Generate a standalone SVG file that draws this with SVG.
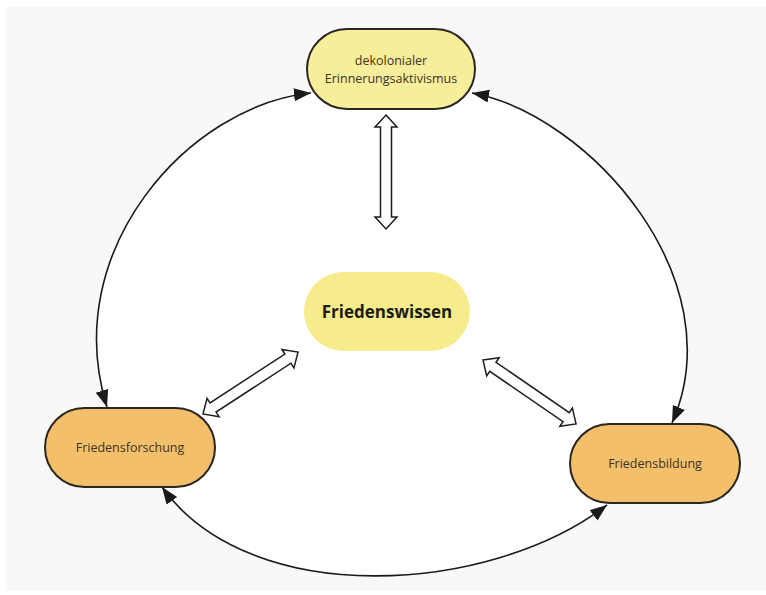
<svg xmlns="http://www.w3.org/2000/svg" width="766" height="595" viewBox="0 0 766 595">
<style>
.lbl{font-family:"Open Sans","Liberation Sans",sans-serif;font-size:12.5px;fill:#3b3424;text-anchor:middle}
.main{font-family:"Open Sans","Liberation Sans",sans-serif;font-size:17px;font-weight:bold;fill:#1e1b14;text-anchor:middle}
.arc{fill:none;stroke:#1a1a1a;stroke-width:1.6;marker-start:url(#ah);marker-end:url(#ah)}
.blk{fill:#ffffff;stroke:#1e1e1e;stroke-width:1.5;stroke-linejoin:miter}
.pill{stroke:#2a2620;stroke-width:2}
</style>
<defs>
<marker id="ah" markerUnits="userSpaceOnUse" markerWidth="18" markerHeight="14" refX="17" refY="6.5" orient="auto-start-reverse" viewBox="0 0 18 14">
<path d="M0,0 L17,6.5 L0,13 z" fill="#1a1a1a"/>
</marker>
</defs>
<rect x="0" y="0" width="766" height="595" fill="#ffffff"/>
<rect x="6" y="7" width="760" height="584" fill="#f8f8f8"/>
<path d="M311 93 C190 105, 58 250, 107 407 L162 487 C250 610, 490 595, 607 505 L672 423 C735 280, 590 115, 472 93 Z" fill="#ffffff"/>
<g id="connectors">
<path class="arc" d="M311 93 C190 105, 58 250, 107 407"/>
<path class="arc" d="M472 93 C590 115, 735 280, 672 423"/>
<path class="arc" d="M162 487 C250 610, 490 595, 607 505"/>
<polygon class="blk" transform="translate(386,115) rotate(90)" points="0,0 12,-11 12,-5.5 102,-5.5 102,-11 114,0 102,11 102,5.5 12,5.5 12,11"/>
<polygon class="blk" transform="translate(203,414) rotate(-33.1)" points="0,0 12,-11 12,-5.5 101.4,-5.5 101.4,-11 113.4,0 101.4,11 101.4,5.5 12,5.5 12,11"/>
<polygon class="blk" transform="translate(483,360) rotate(34.5)" points="0,0 12,-11 12,-5.5 100.9,-5.5 100.9,-11 112.9,0 100.9,11 100.9,5.5 12,5.5 12,11"/>
</g>
<g id="node-dekolonial">
<rect class="pill" x="307" y="29" width="168" height="80" rx="40" fill="#f7ee9c"/>
<text class="lbl" x="391" y="65">dekolonialer</text>
<text class="lbl" x="391" y="83">Erinnerungsaktivismus</text>
</g>
<g id="node-friedenswissen">
<rect x="304" y="272" width="166" height="79" rx="39.5" fill="#f6ec8c"/>
<text class="main" x="387" y="318">Friedenswissen</text>
</g>
<g id="node-friedensforschung">
<rect class="pill" x="45" y="408" width="170" height="79" rx="39.5" fill="#f3bf6b"/>
<text class="lbl" x="130" y="452">Friedensforschung</text>
</g>
<g id="node-friedensbildung">
<rect class="pill" x="570" y="424" width="170" height="79" rx="39.5" fill="#f3bf6b"/>
<text class="lbl" x="655" y="468">Friedensbildung</text>
</g>
</svg>
